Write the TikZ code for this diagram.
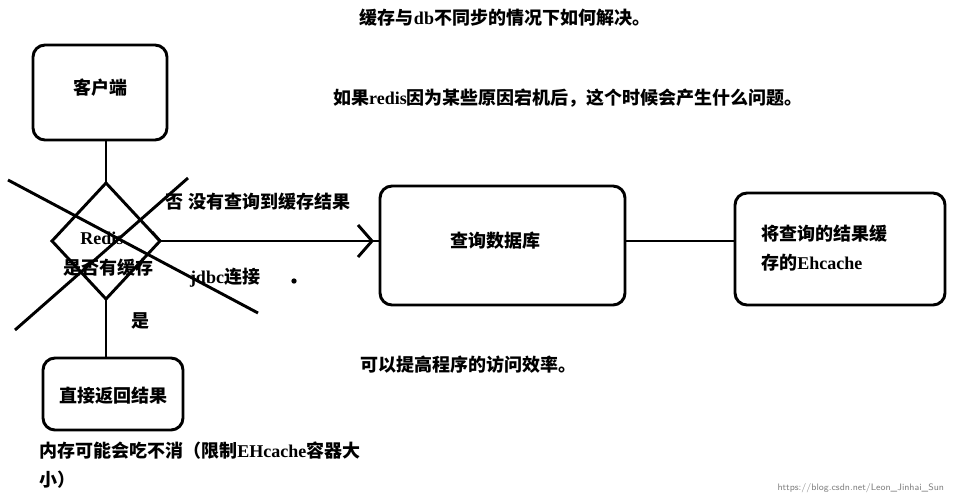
\documentclass[tikz,border=0pt]{standalone}
\usepackage{fontspec}
\setmainfont{Liberation Serif}
\newfontfamily\cjk{Noto Sans CJK SC}
\newcommand{\lat}[1]{{\rmfamily\bfseries #1}}
\begin{document}
\begin{tikzpicture}[x=0.75pt,y=-0.75pt,line width=2.2pt,
 bx/.style={draw,rounded corners=9pt},
 tx/.style={font=\cjk\bfseries\fontsize{13.5}{16}\selectfont,inner sep=0pt}]
\useasboundingbox (0,0) rectangle (955,500);
\draw[bx] (33,45) rectangle (167,140); \node[tx] (c) at (100,88) {客户端};
\coordinate (ct) at (106,140);
\draw[bx] (380,186) rectangle (625,305); \node[tx] (q) at (495,241) {查询数据库};
\draw[bx] (735,193) rectangle (945,305);
\node[tx,align=left,anchor=west] (e) at (760,248) {将查询的结果缓\\[6pt]存的\lat{Ehcache}};
\draw[bx] (43,358) rectangle (183,430); \node[tx] (r) at (113,396) {直接返回结果};
\coordinate (dt) at (106,183); \coordinate (db) at (106,299);
\coordinate (dl) at (52,241); \coordinate (dr) at (160,241);
\draw (dt)--(dr)--(db)--(dl)--cycle;
\draw (ct)--(dt); \draw (db)--(106,358);
\draw (8,180)--(258,313); \draw (15,330)--(188,178);
\coordinate (qa) at (380,241);
\draw (dr)--(qa);
\draw (358,225)--(372,241)--(358,257);
\draw (152,232)--(160,241);
\draw (625,241)--(735,241);
\fill (294,281) circle (2pt);
\node[tx] at (102,238) {\lat{Redis}};
\node[tx] at (108,268) {是否有缓存};
\node[tx] at (258,202) {否 没有查询到缓存结果};
\node[tx] at (225,278) {\lat{jdbc}连接};
\node[tx] at (140,321) {是};
\node[tx] at (505,18) {缓存与\lat{db}不同步的情况下如何解决。};
\node[tx] at (568,98) {如果\lat{redis}因为某些原因宕机后，这个时候会产生什么问题。};
\node[tx] at (468,365) {可以提高程序的访问效率。};
\node[tx,align=left,anchor=west] at (38,465) {内存可能会吃不消（限制\lat{EHcache}容器大\\[6pt]小）};
\node[font=\sffamily\fontsize{7}{8}\selectfont,text=gray,anchor=east] at (950,488) {https://blog.csdn.net/Leon\_Jinhai\_Sun};
\end{tikzpicture}
\end{document}
